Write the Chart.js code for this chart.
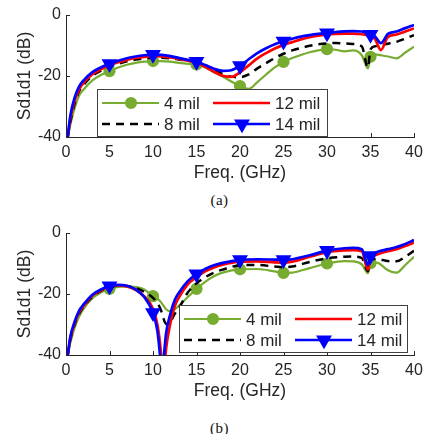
<!DOCTYPE html>
<html>
<head>
<meta charset="utf-8">
<script src="https://cdn.jsdelivr.net/npm/chart.js@4.4.0/dist/chart.umd.min.js"></script>
<style>
  html, body { margin: 0; padding: 0; background: #fff; overflow: hidden; }
  #wrap { position: relative; width: 443px; height: 434px; overflow: hidden; }
  .panel { position: absolute; left: 0; width: 443px; height: 190px; }
  .cap { position: absolute; width: 443px; left: -2px; text-align: center;
         font-family: "Liberation Serif", serif; font-size: 15px; letter-spacing: 0.5px; color: #111; }
</style>
</head>
<body>
<div id="wrap">
  <div class="panel" style="top:0"><canvas id="grafica1" width="443" height="190"></canvas></div>
  <div class="cap" style="top:192px">(a)</div>
  <div class="panel" style="top:218px"><canvas id="grafica2" width="443" height="190"></canvas></div>
  <div class="cap" style="top:420px">(b)</div>
</div>
<script>
// series names and marker positions
var nombres = ['4 mil', '8 mil', '12 mil', '14 mil'];
var marcas = [5, 10, 15, 20, 25, 30, 35];

// panel (a)
var freqA = [0.2, 0.5, 1, 1.5, 2, 3, 4, 5, 6, 7, 8, 9, 10, 11, 12, 13, 14, 15, 16, 17, 18, 19, 20,
             21, 22, 23, 24, 25, 26, 27, 28, 29, 30, 31, 32, 33, 34, 34.7, 35, 35.5, 36.2, 37, 38, 39, 40];
var a4mil = [-40, -36, -30.5, -26.5, -24.5, -21.5, -19.7, -18.4, -17.2, -16.3, -15.7, -15.3, -15.1, -15.1, -15.3, -15.7, -16, -16.2, -17.2, -18.7, -20.2, -21.8, -23.3,
             -24.2, -22, -19.5, -17.2, -15.4, -14.1, -13.1, -12.2, -11.6, -11.2, -11.4, -11.9, -11.6, -13.2, -17.5, -13.7, -12.9, -13.2, -13.6, -14.2, -12.3, -10.4];
var a8mil = [-40, -35, -29, -25, -23, -20, -18.3, -17, -16, -15.2, -14.6, -14.2, -14, -14, -14.2, -14.6, -15, -15.5, -16.7, -18, -19.3, -20.2, -20.4,
             -19.5, -17.5, -15.8, -14.1, -12.7, -11.6, -10.8, -10.1, -9.6, -9.3, -9.2, -9.3, -9.5, -10.3, -17.2, -11.3, -10.3, -9.8, -9.4, -8.8, -7.7, -6.6];
var a12mil = [-40, -34, -28, -24.5, -22.3, -19.5, -17.8, -16.5, -15.5, -14.7, -14.1, -13.7, -13.5, -13.6, -13.9, -14.4, -15, -15.6, -17, -18.6, -19.9, -20.3, -18.8,
              -16.5, -14.2, -12.5, -11, -9.8, -8.9, -8, -7.3, -6.8, -6.4, -6.2, -6.1, -6.1, -6.3, -6.7, -7.1, -7.8, -11.5, -7.2, -6.4, -5.4, -4.4];
var a14mil = [-40, -33, -27, -23.5, -21.5, -18.8, -17.2, -16, -15, -14.2, -13.6, -13.2, -13, -13.1, -13.5, -14.1, -14.7, -15.3, -16.4, -17.6, -18.3, -18.1, -16.7,
              -14.5, -12.5, -10.9, -9.6, -8.6, -7.8, -7.1, -6.6, -6.2, -5.9, -5.6, -5.4, -5.3, -5.4, -5.8, -6.4, -7, -9.2, -6.2, -5.4, -4.3, -3.3];

// panel (b)
var freqB = [0.2, 0.5, 1, 1.5, 2, 3, 4, 5, 6, 7, 8, 9, 10, 10.5, 10.8, 11, 11.2, 11.5, 12, 12.5, 13, 14, 15, 16, 17, 18,
             20, 22, 24, 25, 26, 28, 30, 32, 33, 34, 34.7, 35, 35.5, 36, 37, 38, 39, 40];
var b4mil = [-40, -36, -31, -27.5, -25, -21.5, -19.5, -18.3, -17.7, -17.5, -17.7, -18.5, -20.7, -21.5, -22.3, -23, -23.8, -25, -25.7, -25, -23.8, -21, -18.3, -16, -14.2, -13,
             -11.9, -11.8, -12.6, -13.1, -13, -11.5, -10, -9.2, -9.3, -10.3, -13.2, -9.9, -9.6, -10, -12.2, -13, -10.5, -7.8];
var b8mil = [-40, -35, -30, -26.5, -24.3, -21, -19, -17.8, -17.3, -17.4, -18, -19.3, -21.3, -23, -24.5, -26, -28, -29.8, -29, -26.5, -24.5, -19.5, -16.5, -14.5, -13, -12,
             -10.6, -10.5, -11, -11.2, -11, -9.5, -8.3, -7.8, -7.7, -8.2, -12.5, -9, -8.5, -8.6, -9.2, -9.3, -7.8, -5.8];
var b12mil = [-40, -34.5, -29.5, -26, -24, -20.6, -18.8, -17.6, -17.2, -17.5, -18.6, -20.8, -24.8, -30, -36, -42, -48, -38, -29.5, -24, -21, -16.8, -14.5, -12.6, -11.3, -10.4,
              -9.4, -9.3, -9.6, -9.7, -9.4, -7.8, -6.3, -5.7, -5.6, -6, -12, -8.5, -7.3, -6.8, -6, -5.3, -4.3, -3.1];
var b14mil = [-40, -34, -29, -25.5, -23.5, -20.3, -18.5, -17.4, -17, -17.3, -18.5, -21, -26.2, -32, -40, -48, -42, -33, -26.5, -22, -19.5, -15.8, -13.5, -11.8, -10.6, -9.8,
              -8.8, -8.6, -8.7, -8.8, -8.6, -7.3, -5.8, -5, -4.9, -5.3, -10.5, -7.5, -6.5, -6, -5.3, -4.6, -3.6, -2.3];

var colores = ['#77AC30', '#000000', '#FF0000', '#0000FF'];
var textoColor = '#262626';
var fuente = '"Liberation Sans", Arial, sans-serif';

function puntos(xs, ys) {
    var out = [];
    for (var i = 0; i < xs.length; i++) out.push({x: xs[i], y: ys[i]});
    return out;
}

function radioMarca(r) {
    return function (ctx) {
        return marcas.indexOf(ctx.raw.x) >= 0 ? r : 0;
    };
}

function hacerDatasets(xs, series) {
    return [
        { label: nombres[0], data: puntos(xs, series[0]), borderColor: colores[0], backgroundColor: colores[0],
          borderWidth: 2.2, pointStyle: 'circle', pointRadius: radioMarca(5), order: 4 },
        { label: nombres[1], data: puntos(xs, series[1]), borderColor: colores[1], backgroundColor: colores[1],
          borderWidth: 2.5, borderDash: [8, 6], pointRadius: 0, order: 3 },
        { label: nombres[2], data: puntos(xs, series[2]), borderColor: colores[2], backgroundColor: colores[2],
          borderWidth: 2.7, pointRadius: 0, order: 2 },
        { label: nombres[3], data: puntos(xs, series[3]), borderColor: colores[3], backgroundColor: colores[3],
          borderWidth: 2.7, pointStyle: 'triangle', pointRotation: 180, pointRadius: radioMarca(6.5), order: 1 }
    ];
}

// ticks pointing inward, like the original figure
var ticksAdentro = {
    id: 'ticksAdentro',
    afterDraw: function (chart) {
        var c = chart.ctx, a = chart.chartArea;
        var sx = chart.scales.x, sy = chart.scales.y;
        c.save();
        c.strokeStyle = textoColor;
        c.lineWidth = 1;
        sx.ticks.forEach(function (t) {
            var px = Math.round(sx.getPixelForValue(t.value)) + 0.5;
            c.beginPath(); c.moveTo(px, a.bottom); c.lineTo(px, a.bottom - 4); c.stroke();
        });
        sy.ticks.forEach(function (t) {
            var py = Math.round(sy.getPixelForValue(t.value)) + 0.5;
            c.beginPath(); c.moveTo(a.left, py); c.lineTo(a.left + 4, py); c.stroke();
        });
        c.restore();
    }
};

// boxed two-column legend inside the axes
var leyenda = {
    id: 'leyenda',
    afterDraw: function (chart, args, opts) {
        var c = chart.ctx;
        var L = opts.left, T = opts.top, W = opts.width, H = 47;
        c.save();
        c.fillStyle = '#fff';
        c.fillRect(L, T, W, H);
        c.strokeStyle = '#404040';
        c.lineWidth = 1;
        c.strokeRect(L + 0.5, T + 0.5, W, H);
        var filas = [T + 14, T + 35];
        var cols = [L + 5, L + 116];
        var orden = [[0, 0, 0], [1, 1, 0], [2, 0, 1], [3, 1, 1]];
        c.font = '17px ' + fuente;
        c.textBaseline = 'middle';
        orden.forEach(function (o) {
            var ds = chart.data.datasets[o[0]];
            var x0 = cols[o[2]], y = filas[o[1]];
            c.strokeStyle = ds.borderColor;
            c.lineWidth = ds.borderWidth;
            c.setLineDash(ds.borderDash || []);
            c.beginPath(); c.moveTo(x0, y); c.lineTo(x0 + 57, y); c.stroke();
            c.setLineDash([]);
            if (o[0] === 0 || o[0] === 3) {
                Chart.helpers.drawPoint(c, {
                    pointStyle: ds.pointStyle, radius: o[0] === 0 ? 5 : 6.5,
                    rotation: ds.pointRotation || 0, borderWidth: 1
                }, x0 + 29, y);
                c.fillStyle = ds.backgroundColor;
                c.fill();
            }
            c.fillStyle = textoColor;
            c.fillText(ds.label, x0 + 62, y + 1);
        });
        c.restore();
    }
};

function opciones(posLeyenda) {
    return {
        responsive: false,
        animation: false,
        layout: { padding: { top: 15, right: 29, left: 0, bottom: 0 } },
        elements: { line: { tension: 0, cubicInterpolationMode: 'monotone' } },
        plugins: {
            legend: { display: false },
            tooltip: { enabled: false },
            leyenda: posLeyenda
        },
        scales: {
            x: {
                type: 'linear', min: 0, max: 40,
                afterFit: function (s) { s.height = 53; },
                ticks: { stepSize: 5, padding: 6, color: textoColor, font: { family: fuente, size: 16 } },
                grid: { drawOnChartArea: false, drawTicks: false },
                border: { color: textoColor, width: 1 },
                title: { display: true, text: 'Freq. (GHz)', color: textoColor,
                         font: { family: fuente, size: 17.5 }, padding: { top: 0, bottom: 6 } }
            },
            y: {
                type: 'linear', min: -40, max: 0,
                afterFit: function (s) { s.width = 66; },
                ticks: { stepSize: 20, padding: 5, color: textoColor, font: { family: fuente, size: 16 } },
                grid: { drawOnChartArea: false, drawTicks: false },
                border: { color: textoColor, width: 1 },
                title: { display: true, text: 'Sd1d1 (dB)', color: textoColor,
                         font: { family: fuente, size: 17.5 }, padding: { top: 15, bottom: 0 } }
            }
        }
    };
}

new Chart(document.getElementById('grafica1').getContext('2d'), {
    type: 'line',
    data: { datasets: hacerDatasets(freqA, [a4mil, a8mil, a12mil, a14mil]) },
    options: opciones({ left: 97, top: 89, width: 230 }),
    plugins: [ticksAdentro, leyenda]
});

new Chart(document.getElementById('grafica2').getContext('2d'), {
    type: 'line',
    data: { datasets: hacerDatasets(freqB, [b4mil, b8mil, b12mil, b14mil]) },
    options: opciones({ left: 179, top: 87, width: 228 }),
    plugins: [ticksAdentro, leyenda]
});
</script>
</body>
</html>
